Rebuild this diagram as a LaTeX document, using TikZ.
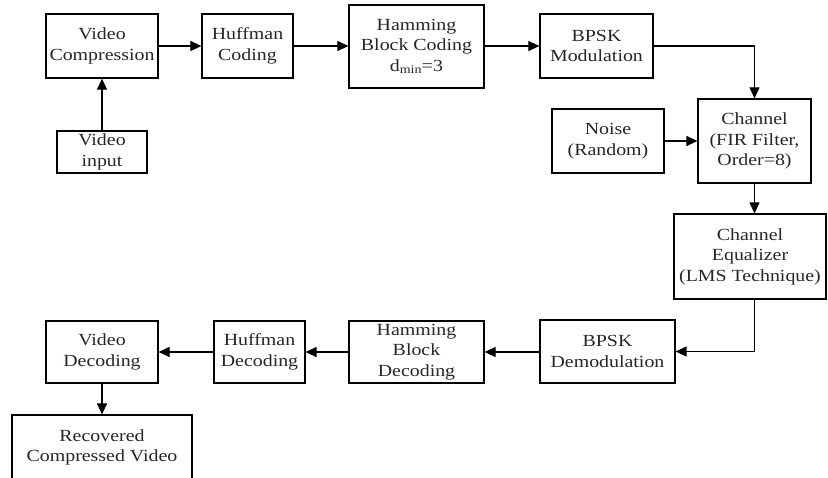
\documentclass[tikz,border=0pt]{standalone}
\usepackage{fontspec}
\setmainfont{Liberation Serif}[FakeStretch=1.17]
\usepackage{tikz}
\usetikzlibrary{positioning,calc,arrows.meta}

\begin{document}
\begin{tikzpicture}[x=1pt,y=-1pt,
		blk/.style={draw=black,line width=1.2pt,align=center,inner sep=0pt,text=black!85,
			font=\fontsize{17}{20.5}\selectfont},
		conn/.style={line width=1.1pt,-{Triangle[length=11pt,width=10pt]}}]
		\useasboundingbox (0,0) rectangle (828,477);
		% transmitter chain
		\node[blk,minimum width=112pt,minimum height=64pt] (vcomp) at (102,46) {Video\\Compression};
		\node[blk,minimum width=91pt,minimum height=64pt] (huff) at (247.5,46) {Huffman\\Coding};
		\node[blk,minimum width=135pt,minimum height=83pt] (hamm) at (416.5,46.5) {Hamming\\Block Coding\\d\textsubscript{min}=3};
		\node[blk,minimum width=113pt,minimum height=64pt] (bpskm) at (596.5,46) {BPSK\\Modulation};
		\node[blk,minimum width=90pt,minimum height=42pt] (vin) at (102,152) {Video\\input};
		% channel
		\node[blk,minimum width=113pt,minimum height=84pt] (chan) at (754.5,141) {Channel\\(FIR Filter,\\Order=8)};
		\node[blk,minimum width=112pt,minimum height=64pt] (noise) at (608,141) {Noise\\(Random)};
		\node[blk,minimum width=152pt,minimum height=85pt] (equ) at (750,256.5) {Channel\\Equalizer\\(LMS Technique)};
		% receiver chain
		\node[blk,minimum width=135pt,minimum height=63pt] (bpskd) at (607.5,351.5) {BPSK\\Demodulation};
		\node[blk,minimum width=135pt,minimum height=62pt] (hammd) at (416.5,352) {Hamming\\Block\\Decoding};
		\node[blk,minimum width=91pt,minimum height=62pt] (huffd) at (259.5,352) {Huffman\\Decoding};
		\node[blk,minimum width=112pt,minimum height=62pt] (vdec) at (102,352) {Video\\Decoding};
		\node[blk,minimum width=180pt,minimum height=65pt] (rec) at (102,447.5) {Recovered\\Compressed Video};

		\draw[conn] (vin.north) -- (vcomp.south);
		\draw[conn] (vcomp.east) -- (huff.west);
		\draw[conn] (huff.east) -- (hamm.west |- huff.east);
		\draw[conn] (hamm.east |- bpskm.west) -- (bpskm.west);
		\draw[conn] (bpskm.east) -| (chan.north);
		\draw[conn] (noise.east) -- (chan.west);
		\draw[conn] (chan.south) -- (chan.south |- equ.north);
		\draw[conn] (chan.south |- equ.south) |- (bpskd.east);
		\draw[conn] (bpskd.west |- hammd.east) -- (hammd.east);
		\draw[conn] (hammd.west) -- (huffd.east);
		\draw[conn] (huffd.west) -- (vdec.east);
		\draw[conn] (vdec.south) -- (rec.north);
	\end{tikzpicture}
\end{document}
